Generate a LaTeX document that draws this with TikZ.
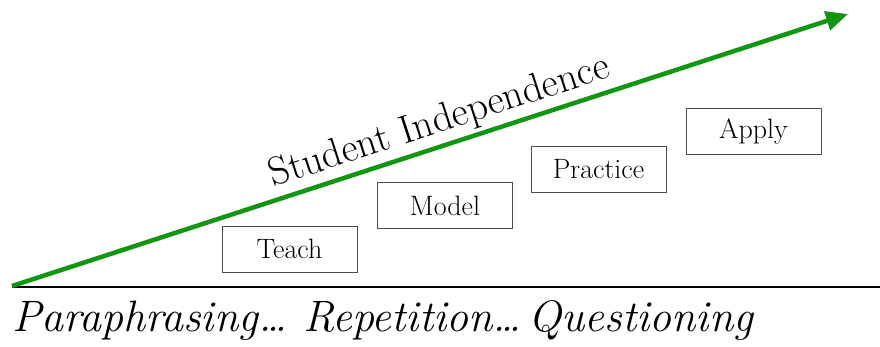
\documentclass[tikz,border=0pt]{standalone}
\usetikzlibrary{arrows.meta}
\definecolor{risegreen}{RGB}{16,150,16}

\begin{document}
\begin{tikzpicture}[x=1pt,y=1pt,
  stage/.style={draw=black!70,line width=0.9pt,minimum width=135pt,minimum height=46pt,font=\fontsize{28}{32}\selectfont},
  rise/.style={risegreen,line width=4.5pt,-{Triangle[length=22pt,width=19pt]}}]
  \useasboundingbox (0,0) rectangle (880,347);
  \coordinate (start) at (12,61);
  \coordinate (tip) at (848,333);
  \coordinate (axisend) at (880,60);
  \draw[line width=2.2pt] (start|-axisend) -- (axisend);
  \draw[rise] (start) -- (tip)
    node[pos=0.52,above=0pt,sloped,text=black,font=\fontsize{40}{44}\selectfont](indep){Student Independence};
  \node[stage](teach) at (289.5,98){Teach};
  \node[stage](model) at (445,141.5){Model};
  \node[stage](practice) at (598.5,178){Practice};
  \node[stage](apply) at (753.5,215.5){Apply};
  \node[anchor=base west,inner sep=0pt,font=\fontsize{44}{50}\selectfont\itshape](skills) at (12,15){Paraphrasing…\hspace{16pt}Repetition…\hspace{7pt}Questioning};
\end{tikzpicture}
\end{document}
